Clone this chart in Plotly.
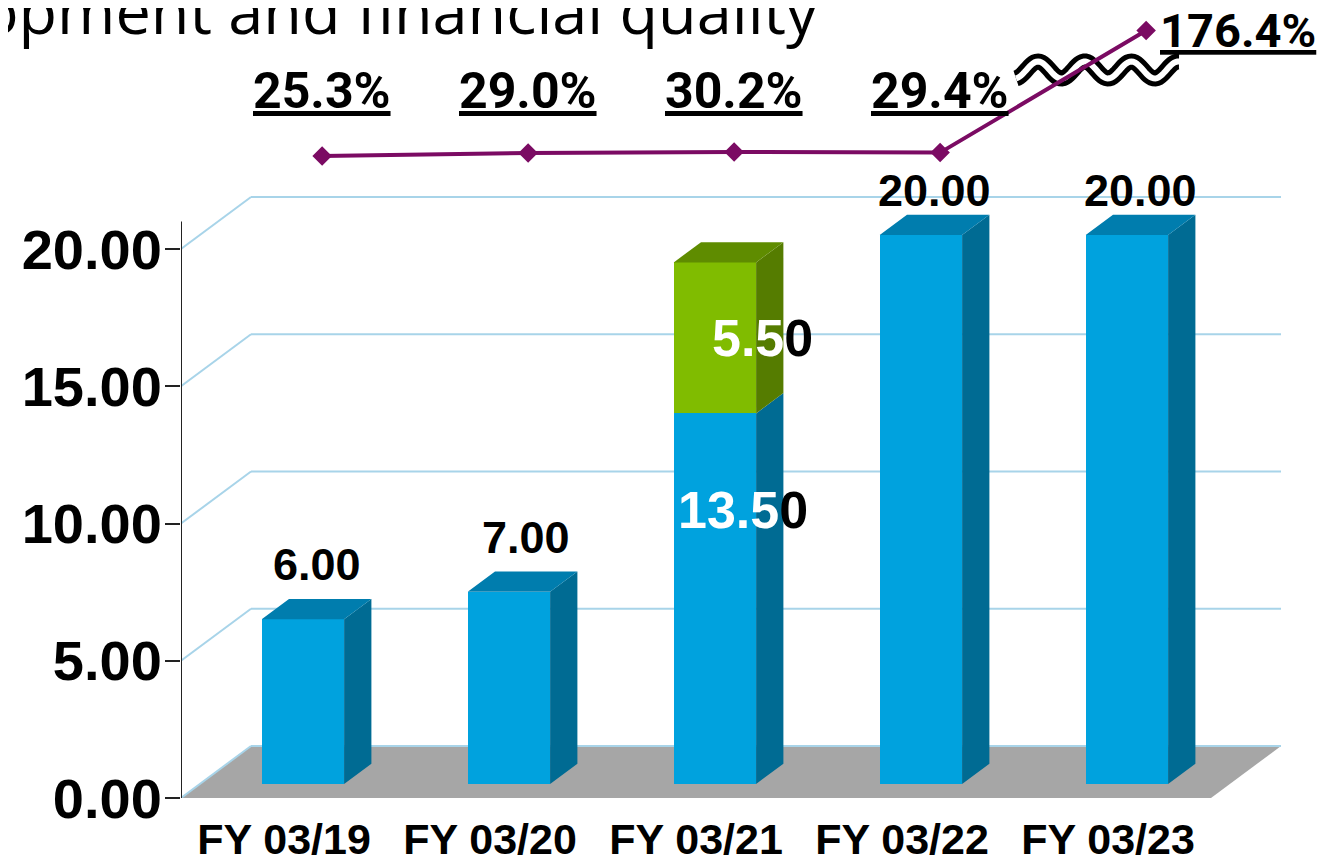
import math
import plotly.graph_objects as go

# ---------------- data ----------------
categories = ["FY 03/19", "FY 03/20", "FY 03/21", "FY 03/22", "FY 03/23"]
dividend_ordinary = [6.00, 7.00, 13.50, 20.00, 20.00]
dividend_special = [0.00, 0.00, 5.50, 0.00, 0.00]
payout_ratio = [25.3, 29.0, 30.2, 29.4, 176.4]
y_ticks = [0, 5, 10, 15, 20]
title_text = "development and financial quality"

# ---------------- layout constants ----------------
W, H = 1330, 868
ML, MR, MT, MB = 173, 50, 0, 78
PW, PH = W - ML - MR, H - MT - MB
PX_UNIT = 27.45                      # pixels per dividend unit
PX_CAT = 206.0                       # pixels per category slot
Y_TOP = PH / PX_UNIT
X_LO = -0.5
X_HI_FRONT = len(categories) - 0.5
X_HI = X_LO + PW / PX_CAT

DEPTH_X = 70 / PX_CAT                # oblique depth (category units)
DEPTH_Y = 52 / PX_UNIT               # oblique depth (value units)
BAR_FRONT, BAR_BACK = 0.27, 0.66     # depth fractions of bar faces
BAR_W = 0.40
FX, FY = BAR_FRONT * DEPTH_X, BAR_FRONT * DEPTH_Y
SX, SY = (BAR_BACK - BAR_FRONT) * DEPTH_X, (BAR_BACK - BAR_FRONT) * DEPTH_Y

BLUE = dict(front="#00A2DE", side="#006B93", top="#007DAE")
GREEN = dict(front="#80BC00", side="#557C00", top="#5F8C00")
PURPLE = "#7B0B63"
GRID = "#A8D4E9"
FLOOR = "#A6A6A6"

# payout axis: 0% at 169px from top, 0.83 px per %
P0, PPP = 169.0, 0.83
Y2_RANGE = [(P0 - PH) / PPP, P0 / PPP]


def px_to_paper(px, py):
    return (px - ML) / PW, 1 - (py - MT) / PH


fig = go.Figure()

# ---------- bar front faces ----------
xs = [i + FX for i in range(len(categories))]
fig.add_trace(go.Bar(x=xs, y=dividend_ordinary, base=[FY] * len(xs), width=BAR_W,
                     marker=dict(color=BLUE["front"], line=dict(width=0)),
                     hoverinfo="skip", showlegend=False))
fig.add_trace(go.Bar(x=xs, y=dividend_special,
                     base=[FY + v for v in dividend_ordinary], width=BAR_W,
                     marker=dict(color=GREEN["front"], line=dict(width=0)),
                     hoverinfo="skip", showlegend=False))

# ---------- bar side / top faces ----------
side_b, top_b, side_g, top_g = ([], []), ([], []), ([], []), ([], [])


def add_poly(store, pts):
    for (px_, py_) in pts:
        store[0].append(px_)
        store[1].append(py_)
    store[0].append(pts[0][0]); store[1].append(pts[0][1])
    store[0].append(None); store[1].append(None)


for i, xc in enumerate(xs):
    xl, xr = xc - BAR_W / 2, xc + BAR_W / 2
    y0 = FY
    y1 = FY + dividend_ordinary[i]
    add_poly(side_b, [(xr, y0), (xr + SX, y0 + SY), (xr + SX, y1 + SY), (xr, y1)])
    if dividend_special[i] > 0:
        y2 = y1 + dividend_special[i]
        add_poly(side_g, [(xr, y1), (xr + SX, y1 + SY), (xr + SX, y2 + SY), (xr, y2)])
        add_poly(top_g, [(xl, y2), (xl + SX, y2 + SY), (xr + SX, y2 + SY), (xr, y2)])
    else:
        add_poly(top_b, [(xl, y1), (xl + SX, y1 + SY), (xr + SX, y1 + SY), (xr, y1)])

for store, col in [(side_b, BLUE["side"]), (top_b, BLUE["top"]),
                   (side_g, GREEN["side"]), (top_g, GREEN["top"])]:
    fig.add_trace(go.Scatter(x=store[0], y=store[1], mode="lines", fill="toself",
                             fillcolor=col, line=dict(width=0, color=col),
                             hoverinfo="skip", showlegend=False))

# ---------- payout ratio line ----------
LINE_DX = 0.185
fig.add_trace(go.Scatter(x=[i + LINE_DX for i in range(len(categories))], y=payout_ratio,
                         yaxis="y2", mode="lines+markers",
                         line=dict(color=PURPLE, width=4),
                         marker=dict(symbol="diamond", size=15, color=PURPLE),
                         hoverinfo="skip", showlegend=False, cliponaxis=False))

# ---------- shapes: floor, back grid, axis line, break symbol ----------
shapes = []
shapes.append(dict(type="path", xref="x", yref="y", layer="below",
                   path=(f"M {X_LO},0 L {X_HI_FRONT},0 L {X_HI_FRONT + DEPTH_X},{DEPTH_Y} "
                         f"L {X_LO + DEPTH_X},{DEPTH_Y} Z"),
                   fillcolor=FLOOR, line=dict(width=0)))
for v in y_ticks:
    shapes.append(dict(type="line", xref="x", yref="y", layer="below",
                       x0=X_LO + DEPTH_X, y0=v + DEPTH_Y, x1=X_HI_FRONT + DEPTH_X, y1=v + DEPTH_Y,
                       line=dict(color=GRID, width=2)))
    shapes.append(dict(type="line", xref="x", yref="y", layer="below",
                       x0=X_LO, y0=v, x1=X_LO + DEPTH_X, y1=v + DEPTH_Y,
                       line=dict(color=GRID, width=2)))
shapes.append(dict(type="line", xref="x", yref="y", layer="above",
                   x0=X_LO, y0=0, x1=X_LO, y1=21.0,
                   line=dict(color="#222222", width=2)))

# wavy break marker on the line
pts = []
for k in range(97):
    px = 1008 + k * (1171 - 1008) / 96
    py = 62 - 8.5 * math.cos(2 * math.pi * (px - 1030) / 46.7)
    pts.append(px_to_paper(px, py))
wave_path = "M " + " L ".join(f"{a:.5f},{b:.5f}" for a, b in pts)
shapes.append(dict(type="path", xref="paper", yref="paper", layer="below",
                   path=wave_path, line=dict(color="black", width=16)))
shapes.append(dict(type="path", xref="paper", yref="paper", layer="below",
                   path=wave_path, line=dict(color="white", width=6)))

# ---------- annotations ----------
ann = []
LBL_FONT = dict(family="Liberation Sans, Arial", size=45, color="black", weight="bold")
for i, xc in enumerate(xs):
    if dividend_special[i] == 0:
        near_line = dividend_ordinary[i] >= 20
        ann.append(dict(x=xc + SX / 2, y=FY + SY + dividend_ordinary[i], xref="x", yref="y",
                        text=f"{dividend_ordinary[i]:.2f}", showarrow=False,
                        yanchor="bottom", yshift=-3 if near_line else 7,
                        xshift=3 if i == 1 else 0, font=LBL_FONT))
    else:
        s1 = f"{dividend_ordinary[i]:.2f}"
        s2 = f"{dividend_special[i]:.2f}"
        big = dict(family="Liberation Sans, Arial", size=52, color="black", weight="bold")
        ann.append(dict(x=xc, y=FY + dividend_ordinary[i] * 0.74, xref="x", yref="y",
                        text=f"<span style='color:white'>{s1[:-1]}</span>{s1[-1]}",
                        showarrow=False, xshift=28, font=big))
        ann.append(dict(x=xc, y=FY + dividend_ordinary[i] + dividend_special[i] * 0.5,
                        xref="x", yref="y",
                        text=f"<span style='color:white'>{s2[:-1]}</span>{s2[-1]}",
                        showarrow=False, xshift=48, font=big))

PCT_FONT = dict(family="Roboto", size=50, color="black", weight="bold", lineposition="under")
for i, v in enumerate(payout_ratio):
    if v < 100:
        ann.append(dict(x=i + LINE_DX, y=px_to_paper(0, 83)[1], xref="x", yref="paper",
                        text=f"{v:.1f}%", showarrow=False, yanchor="middle", font=PCT_FONT))
    else:
        ann.append(dict(x=i + LINE_DX, y=v, xref="x", yref="y2",
                        text=f"{v:.1f}%", showarrow=False, xanchor="left", yanchor="middle",
                        xshift=12, yshift=0, font=dict(PCT_FONT, size=47)))

ann.append(dict(x=px_to_paper(812, 0)[0], y=px_to_paper(0, 1)[1], xref="paper", yref="paper",
                text=title_text, showarrow=False, xanchor="right", yanchor="middle",
                font=dict(family="Open Sans", size=63, color="black")))

fig.update_layout(
    width=W, height=H,
    margin=dict(l=ML, r=MR, t=MT, b=MB, autoexpand=False),
    paper_bgcolor="white", plot_bgcolor="white",
    barmode="overlay", bargap=0,
    shapes=shapes, annotations=ann,
    xaxis=dict(range=[X_LO, X_HI], tickmode="array", tickvals=list(range(len(categories))),
               ticktext=categories, showgrid=False, zeroline=False, showline=False,
               ticks="outside", ticklen=0, tickcolor="rgba(0,0,0,0)", ticklabelstandoff=3,
               tickfont=dict(family="Liberation Sans, Arial", size=43, color="black",
                             weight="bold"),
               automargin=False, fixedrange=True),
    yaxis=dict(range=[0, Y_TOP], tickmode="array", tickvals=y_ticks,
               ticktext=[f"{v:.2f}" for v in y_ticks],
               showgrid=False, zeroline=False, showline=False,
               ticks="outside", ticklen=15, tickwidth=2, tickcolor="#222222",
               ticklabelstandoff=-8,
               tickfont=dict(family="Liberation Sans, Arial", size=56, color="black",
                             weight="bold"),
               automargin=False, fixedrange=True),
    yaxis2=dict(range=Y2_RANGE, overlaying="y", visible=False, fixedrange=True),
)

fig.write_html("out.html")
